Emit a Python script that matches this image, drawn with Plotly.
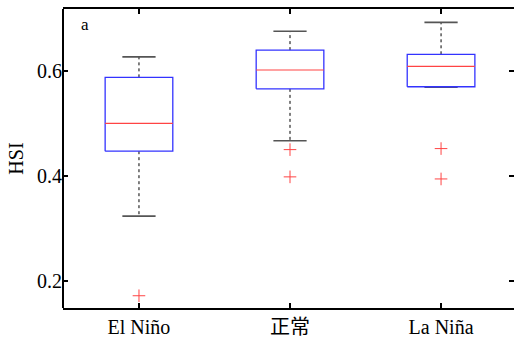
import plotly.graph_objects as go

categories = ["El Niño", "正常", "La Niña"]
q1 = [0.447, 0.566, 0.570]
median = [0.500, 0.602, 0.609]
q3 = [0.588, 0.640, 0.632]
lower_whisker = [0.323, 0.467, 0.569]
upper_whisker = [0.627, 0.676, 0.693]
outliers = [[0.171], [0.450, 0.398], [0.452, 0.394]]
yticks = [0.2, 0.4, 0.6]

BOX_HALF = 0.224
CAP_HALF = 0.11
FONT = "'Liberation Serif', 'Noto Sans CJK SC', serif"

fig = go.Figure()
for i, cat in enumerate(categories):
    fig.add_trace(go.Scatter(x=[i, i, None, i, i],
                             y=[q3[i], upper_whisker[i], None, q1[i], lower_whisker[i]],
                             mode="lines", line=dict(color="black", width=1, dash="dot"),
                             showlegend=False, hoverinfo="skip"))
    fig.add_trace(go.Scatter(x=[i - CAP_HALF, i + CAP_HALF, None, i - CAP_HALF, i + CAP_HALF],
                             y=[upper_whisker[i], upper_whisker[i], None, lower_whisker[i], lower_whisker[i]],
                             mode="lines", line=dict(color="#555555", width=1.6),
                             showlegend=False, hoverinfo="skip"))
    fig.add_trace(go.Scatter(x=[i - BOX_HALF, i + BOX_HALF, i + BOX_HALF, i - BOX_HALF, i - BOX_HALF],
                             y=[q1[i], q1[i], q3[i], q3[i], q1[i]],
                             mode="lines", line=dict(color="#3333ff", width=1.3),
                             showlegend=False, hoverinfo="skip"))
    fig.add_trace(go.Scatter(x=[i - BOX_HALF, i + BOX_HALF], y=[median[i], median[i]],
                             mode="lines", line=dict(color="#ff4444", width=1.2),
                             showlegend=False, hoverinfo="skip"))
    fig.add_trace(go.Scatter(x=[i] * len(outliers[i]), y=outliers[i], mode="markers",
                             marker=dict(symbol="cross-thin", size=9,
                                         line=dict(color="#ff4444", width=1)),
                             showlegend=False, hoverinfo="skip"))

fig.update_layout(
    width=514, height=338,
    margin=dict(l=63, r=0, t=9, b=27),
    plot_bgcolor="white", paper_bgcolor="white",
    font=dict(family=FONT, size=20, color="black"),
    xaxis=dict(range=[-0.503, 2.483], tickvals=list(range(len(categories))),
               ticktext=categories, showgrid=False, zeroline=False,
               showline=True, linecolor="black", linewidth=2, mirror="ticks",
               ticks="inside", ticklen=5, tickwidth=2, tickcolor="black",
               tickfont=dict(family=FONT, size=20)),
    yaxis=dict(range=[0.1476, 0.7185], tickvals=yticks, ticktext=[f"{v:.1f}" for v in yticks],
               showgrid=False, zeroline=False, showline=False, mirror="ticks",
               ticks="inside", ticklen=5, tickwidth=2, tickcolor="black",
               tickfont=dict(family=FONT, size=20),
               title=dict(text="HSI", standoff=8, font=dict(family=FONT, size=20))),
    shapes=[dict(type="line", xref="paper", yref="paper", x0=0, x1=0, y0=0, y1=1,
                 line=dict(color="black", width=2))],
    annotations=[dict(text="a", xref="paper", yref="paper", x=0.035, y=0.985,
                      xanchor="left", yanchor="top", showarrow=False,
                      font=dict(size=17, family=FONT))],
)

fig.write_html("out.html")
